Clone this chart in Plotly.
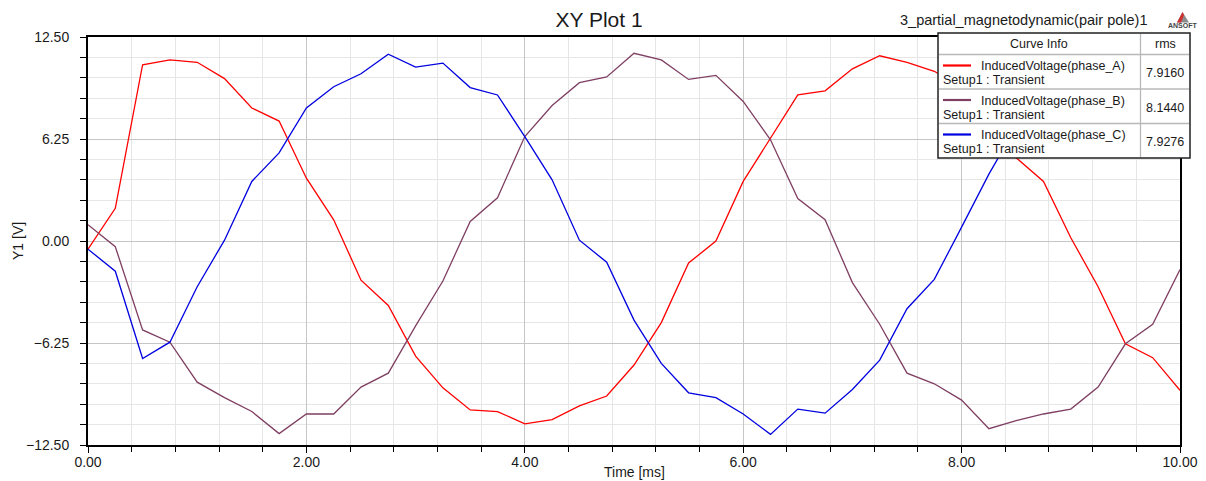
import plotly.graph_objects as go

# ---------------- data ----------------
t_ms = [0.00, 0.25, 0.50, 0.75, 1.00, 1.25, 1.50, 1.75, 2.00, 2.25,
        2.50, 2.75, 3.00, 3.25, 3.50, 3.75, 4.00, 4.25, 4.50, 4.75,
        5.00, 5.25, 5.50, 5.75, 6.00, 6.25, 6.50, 6.75, 7.00, 7.25,
        7.50, 7.75, 8.00, 8.25, 8.50, 8.75, 9.00, 9.25, 9.50, 9.75, 10.00]

phase_A = [-0.5, 2.0, 10.8, 11.1, 10.95, 9.95, 8.15, 7.35, 3.85, 1.3,
           -2.4, -3.95, -7.05, -9.0, -10.35, -10.45, -11.2, -10.95, -10.1, -9.5,
           -7.6, -5.0, -1.35, 0.0, 3.65, 6.3, 8.95, 9.2, 10.55, 11.35,
           10.95, 10.4, 9.4, 7.6, 5.1, 3.65, 0.2, -2.8, -6.3, -7.15, -9.15]

phase_B = [1.0, -0.35, -5.45, -6.2, -8.65, -9.6, -10.45, -11.8, -10.6, -10.6,
           -8.95, -8.1, -5.2, -2.45, 1.2, 2.65, 6.4, 8.3, 9.7, 10.05,
           11.5, 11.1, 9.9, 10.15, 8.55, 6.2, 2.6, 1.3, -2.55, -5.1,
           -8.1, -8.75, -9.75, -11.5, -11.0, -10.6, -10.3, -8.95, -6.3, -5.1, -1.75]

phase_C = [-0.5, -1.85, -7.2, -6.2, -2.8, 0.05, 3.65, 5.4, 8.15, 9.45,
           10.25, 11.45, 10.65, 10.9, 9.4, 8.95, 6.4, 3.75, 0.05, -1.3,
           -4.85, -7.5, -9.3, -9.6, -10.6, -11.85, -10.3, -10.55, -9.1, -7.3,
           -4.15, -2.35, 0.85, 4.1, 7.0, 8.8, 9.9, 10.6, 11.2, 10.8, 10.4]

series_values = [phase_A, phase_B, phase_C]
series_names = ["InducedVoltage(phase_A)", "InducedVoltage(phase_B)", "InducedVoltage(phase_C)"]
series_colors = ["#FF0000", "#7F3F62", "#0000E0"]
rms_values = ["7.9160", "8.1440", "7.9276"]
setup_label = "Setup1 : Transient"
table_header = ["Curve Info", "rms"]

chart_title = "XY Plot 1"
project_label = "3_partial_magnetodynamic(pair pole)1"
x_title = "Time [ms]"
y_title = "Y1 [V]"

# ---------------- geometry helpers ----------------
W, H = 1206, 481
L, R, T, B = 88, 26, 37, 36
PW, PH = W - L - R, H - T - B


def fx(p):
    return (p - L) / PW


def fy(p):
    return (H - B - p) / PH


FONT = "Liberation Sans, Arial, sans-serif"
TXT = "#1a1a1a"

fig = go.Figure()
for vals, name, col in zip(series_values, series_names, series_colors):
    fig.add_trace(go.Scatter(x=t_ms, y=vals, mode="lines", name=name,
                             line=dict(color=col, width=1.3),
                             showlegend=False, hoverinfo="x+y+name"))

axis_common = dict(
    showline=True, linecolor="black", linewidth=2, mirror=True,
    zeroline=False, showgrid=True, gridcolor="#c6c6c6", gridwidth=1,
    ticks="outside", ticklen=6, tickcolor="black", tickwidth=1,
    tickformat=".2f", tickfont=dict(family=FONT, size=14, color=TXT),
)

fig.update_layout(
    width=W, height=H,
    margin=dict(l=L, r=R, t=T, b=B, autoexpand=False),
    paper_bgcolor="white", plot_bgcolor="white",
    font=dict(family=FONT, color=TXT),
    title=dict(text=chart_title, x=599 / W, xref="container", xanchor="center",
               y=1 - 20 / H, yref="container", yanchor="middle",
               font=dict(family=FONT, size=21, color=TXT)),
    xaxis=dict(range=[0, 10], tick0=0, dtick=2, ticklabelstandoff=-3,
               minor=dict(tick0=0, dtick=0.4, showgrid=True, gridcolor="#e6e6e6",
                          ticks="outside", ticklen=5, tickcolor="black"),
               **axis_common),
    yaxis=dict(range=[-12.5, 12.5], tick0=0, dtick=6.25, ticklabelstandoff=8,
               minor=dict(tick0=0, dtick=1.25, showgrid=True, gridcolor="#e6e6e6",
                          ticks="outside", ticklen=6, tickcolor="black"),
               **axis_common),
    hovermode="closest",
)

ann = []
shapes = []

# axis titles
ann.append(dict(text=x_title, x=fx(634), y=fy(472), xref="paper", yref="paper",
                showarrow=False, xanchor="center", yanchor="middle",
                font=dict(family=FONT, size=14, color=TXT)))
ann.append(dict(text=y_title, x=fx(18), y=fy(241), xref="paper", yref="paper",
                showarrow=False, xanchor="center", yanchor="middle", textangle=-90,
                font=dict(family=FONT, size=14, color=TXT)))

# project label and logo
ann.append(dict(text=project_label, x=fx(1149), y=fy(20.5), xref="paper", yref="paper",
                showarrow=False, xanchor="right", yanchor="middle",
                font=dict(family=FONT, size=14.5, color=TXT)))
ann.append(dict(text="<b>ANSOFT</b>", x=fx(1183), y=fy(25.5), xref="paper", yref="paper",
                showarrow=False, xanchor="center", yanchor="middle",
                font=dict(family=FONT, size=7, color="#444444")))
shapes.append(dict(type="path", xref="paper", yref="paper",
                   path=f"M {fx(1177)} {fy(22.5)} L {fx(1182.5)} {fy(12)} L {fx(1189)} {fy(22.5)} Z",
                   fillcolor="#8c8c8c", line=dict(width=0), layer="above"))
shapes.append(dict(type="path", xref="paper", yref="paper",
                   path=f"M {fx(1177)} {fy(22.5)} L {fx(1182.5)} {fy(12)} L {fx(1184)} {fy(15)} L {fx(1181)} {fy(22.5)} Z",
                   fillcolor="#d03030", line=dict(width=0), layer="above"))

# legend table
TX0, TX1, TY0, TY1 = 938, 1190, 33, 158
COLX = 1140.5
HEAD_B = 54.5
ROW_H = (TY1 - HEAD_B) / 3

shapes.append(dict(type="rect", xref="paper", yref="paper",
                   x0=fx(TX0), x1=fx(TX1), y0=fy(TY1), y1=fy(TY0),
                   fillcolor="white", line=dict(color="#202020", width=1.5), layer="above"))
grid_col = "#b8b8b8"
shapes.append(dict(type="line", xref="paper", yref="paper",
                   x0=fx(COLX), x1=fx(COLX), y0=fy(TY0 + 1), y1=fy(TY1 - 1),
                   line=dict(color=grid_col, width=1.3), layer="above"))
for k in range(3):
    yy = HEAD_B + ROW_H * k
    shapes.append(dict(type="line", xref="paper", yref="paper",
                       x0=fx(TX0 + 1), x1=fx(TX1 - 1), y0=fy(yy), y1=fy(yy),
                       line=dict(color=grid_col, width=1.3), layer="above"))

ann.append(dict(text=table_header[0], x=fx((TX0 + COLX) / 2), y=fy((TY0 + HEAD_B) / 2),
                xref="paper", yref="paper", showarrow=False, xanchor="center", yanchor="middle",
                font=dict(family=FONT, size=12.5, color=TXT)))
ann.append(dict(text=table_header[1], x=fx((COLX + TX1) / 2), y=fy((TY0 + HEAD_B) / 2),
                xref="paper", yref="paper", showarrow=False, xanchor="center", yanchor="middle",
                font=dict(family=FONT, size=12.5, color=TXT)))

for i, (name, col, rms) in enumerate(zip(series_names, series_colors, rms_values)):
    top = HEAD_B + ROW_H * i
    shapes.append(dict(type="line", xref="paper", yref="paper",
                       x0=fx(943), x1=fx(971), y0=fy(top + 11), y1=fy(top + 11),
                       line=dict(color=col, width=2.2), layer="above"))
    ann.append(dict(text=name, x=fx(979), y=fy(top + 11.5), xref="paper", yref="paper",
                    showarrow=False, xanchor="left", yanchor="middle",
                    font=dict(family=FONT, size=12.5, color=TXT)))
    ann.append(dict(text=setup_label, x=fx(941), y=fy(top + 25.5), xref="paper", yref="paper",
                    showarrow=False, xanchor="left", yanchor="middle",
                    font=dict(family=FONT, size=12.5, color=TXT)))
    ann.append(dict(text=rms, x=fx((COLX + TX1) / 2), y=fy(top + 18.5), xref="paper", yref="paper",
                    showarrow=False, xanchor="center", yanchor="middle",
                    font=dict(family=FONT, size=12.5, color=TXT)))

fig.update_layout(annotations=ann, shapes=shapes)
fig.write_html("out.html")
